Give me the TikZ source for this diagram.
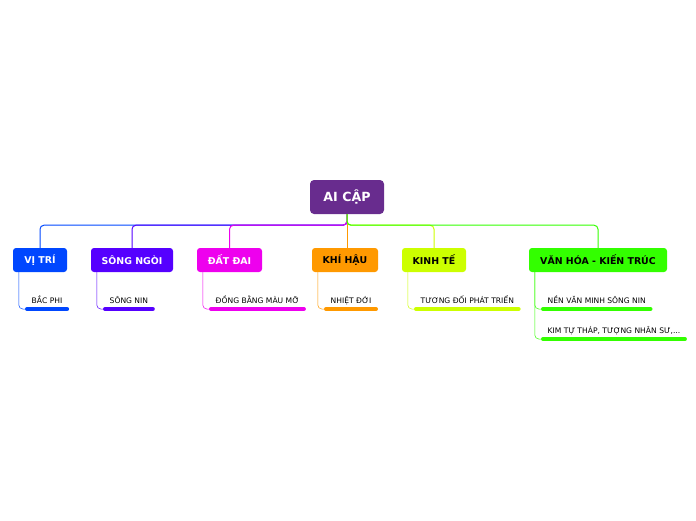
\documentclass[tikz,border=0pt]{standalone}
\usepackage{fontspec}
\setmainfont{DejaVu Sans}
\usepackage{tikz}
\usetikzlibrary{positioning, calc}

\definecolor{rootc}{HTML}{682C8E}
\definecolor{vitric}{HTML}{0047FF}
\definecolor{songc}{HTML}{5500FF}
\definecolor{datc}{HTML}{EE00EE}
\definecolor{khic}{HTML}{FF9900}
\definecolor{kinhc}{HTML}{CCFF00}
\definecolor{vanc}{HTML}{33FF00}

\tikzset{
  rootbox/.style={fill=rootc, text=white, rounded corners=4pt, minimum width=74pt,
    minimum height=34pt, font=\fontsize{12.6}{14}\selectfont\bfseries},
  topic/.style={fill=#1, rounded corners=3pt, minimum height=24pt, inner xsep=0pt,
    font=\fontsize{9.4}{11}\selectfont\bfseries},
  branch/.style={draw=#1, line width=1pt, rounded corners=4pt},
  leaf/.style={anchor=south west, inner xsep=6.5pt, inner ysep=5.5pt, text depth=0pt,
    font=\fontsize{7.6}{9}\selectfont},
  leafline/.style={draw=#1, line width=0.5pt, rounded corners=4pt},
  under/.style={draw=#1, line width=4pt, line cap=round, shorten <=2pt, shorten >=2pt}
}

\begin{document}
\begin{tikzpicture}[x=1pt, y=-1pt]
    \useasboundingbox (0,0) rectangle (696,520);

    % central topic
    \node[rootbox] (root) at (347,197) {AI CẬP};

    % main topics
    \node[topic=vitric, text=white, minimum width=54pt] (vitri) at (40,260) {VỊ TRÍ};
    \node[topic=songc, text=white, minimum width=82pt] (songngoi) at (132,260) {SÔNG NGÒI};
    \node[topic=datc, text=white, minimum width=65pt] (datdai) at (229.5,260) {ĐẤT ĐAI};
    \node[topic=khic, minimum width=66pt] (khihau) at (345,260) {KHÍ HẬU};
    \node[topic=kinhc, minimum width=64pt] (kinhte) at (434,260) {KINH TẾ};
    \node[topic=vanc, minimum width=138pt] (vanhoa) at (598,260) {VĂN HÓA - KIẾN TRÚC};

    % branches from the centre
    \draw[branch=khic] (root.south) -- (root.south |- khihau.north);
    \draw[branch=vitric] (root.south) -- ++(0,11) -| (vitri.north);
    \draw[branch=songc] (root.south) -- ++(0,11) -| (songngoi.north);
    \draw[branch=datc] (root.south) -- ++(0,11) -| (datdai.north);
    \draw[branch=kinhc] (root.south) -- ++(0,11) -| (kinhte.north);
    \draw[branch=vanc] (root.south) -- ++(0,11) -| (vanhoa.north);

    % subtopics
    \node[leaf] (bacphi) at (25,309) {BẮC PHI};
    \node[leaf] (songnin) at (103,309) {SÔNG NIN};
    \node[leaf] (dongbang) at (209,309) {ĐỒNG BẰNG MÀU MỠ};
    \node[leaf] (nhietdoi) at (324,309) {NHIỆT ĐỚI};
    \node[leaf] (tuongdoi) at (414,309) {TƯƠNG ĐỐI PHÁT TRIỂN};
    \node[leaf] (nenvan) at (541,309) {NỀN VĂN MINH SÔNG NIN};
    \node[leaf] (kimtu) at (541,339) {KIM TỰ THÁP, TƯỢNG NHÂN SƯ,...};

    % underlines
    \draw[under=vitric] (bacphi.south west) -- (bacphi.south east);
    \draw[under=songc] (songnin.south west) -- (songnin.south east);
    \draw[under=datc] (dongbang.south west) -- (dongbang.south east);
    \draw[under=khic] (nhietdoi.south west) -- (nhietdoi.south east);
    \draw[under=kinhc] (tuongdoi.south west) -- (tuongdoi.south east);
    \draw[under=vanc] (nenvan.south west) -- (nenvan.south east);
    \draw[under=vanc] (kimtu.south west) -- (kimtu.south east);

    % links to subtopics
    \draw[leafline=vitric] ([xshift=6pt]vitri.south west) |- (bacphi.south west);
    \draw[leafline=songc] ([xshift=6pt]songngoi.south west) |- (songnin.south west);
    \draw[leafline=datc] ([xshift=6pt]datdai.south west) |- (dongbang.south west);
    \draw[leafline=khic] ([xshift=6pt]khihau.south west) |- (nhietdoi.south west);
    \draw[leafline=kinhc] ([xshift=6pt]kinhte.south west) |- (tuongdoi.south west);
    \draw[leafline=vanc] ([xshift=6pt]vanhoa.south west) |- (nenvan.south west);
    \draw[leafline=vanc] ([xshift=6pt]vanhoa.south west) |- (kimtu.south west);
\end{tikzpicture}
\end{document}
